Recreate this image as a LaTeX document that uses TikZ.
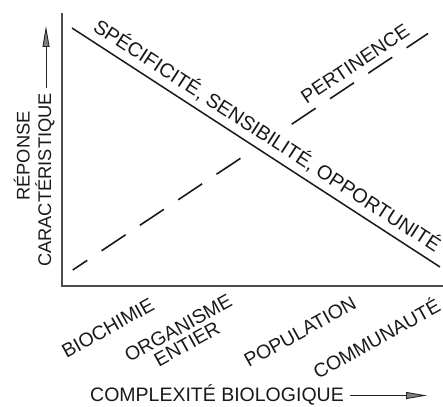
\documentclass[tikz,border=0pt]{standalone}
\usepackage{fontspec}
\setmainfont{Liberation Sans}
\newfontfamily\lblfont{Liberation Sans}
\usetikzlibrary{arrows.meta}
\begin{document}
\begin{tikzpicture}[x=1pt,y=-1pt,
  lbl/.style={font=\lblfont\fontsize{19.5}{18}\selectfont, inner sep=0pt, text=black!90},
  catlbl/.style={lbl, rotate=29, align=center, anchor=center},
  ylbl/.style={font=\fontsize{18.3}{18}\selectfont, inner sep=0pt, rotate=90, anchor=base, text=black!90},
  axisline/.style={line width=1.1pt, draw=black!70},
  curve/.style={line width=1.5pt, draw=black!90},
  dashcurve/.style={line width=1.6pt, draw=black!90, dash pattern=on 28.8pt off 17.2pt},
  arr/.style={line width=0.9pt, draw=black!85, -{Triangle[length=21pt,width=7pt,fill=black!50]}}
]
\useasboundingbox (0,0) rectangle (443,406);

% axes
\coordinate (ytop) at (62,13);
\coordinate (O) at (62,286);
\coordinate (xend) at (443,286);
\draw[axisline] (ytop) -- (O) -- (xend);

% solid line
\coordinate (s1) at (72,28);
\coordinate (s2) at (440,267);
\draw[curve] (s1) -- (s2);
\node[lbl, font=\lblfont\fontsize{19.9}{18}\selectfont, rotate=-33, anchor=base] (slbl) at (263.5,141.5) {SPÉCIFICITÉ, SENSIBILITÉ, OPPORTUNITÉ};

% dashed line
\coordinate (p0) at (72.7,270);
\coordinate (p1) at (240.5,158.3);
\coordinate (p2) at (291.7,124.2);
\coordinate (p3) at (428,33.5);
\draw[dashcurve, dash phase=11.3pt] (p0) -- (p1);
\draw[dashcurve] (p2) -- (p3);
\node[lbl, rotate=33.6, anchor=base] (plbl) at (358.8,69.4) {PERTINENCE};

% y axis label
\node[ylbl] (rep) at (29.5,156) {RÉPONSE};
\node[ylbl] (car) at (51,180) {CARACTÉRISTIQUE};
\coordinate (ya1) at (46,88);
\coordinate (ya2) at (46,26);
\draw[arr] (ya1) -- (ya2);

% categories
\node[catlbl] (bio) at (108,328) {BIOCHIMIE};
\node[catlbl] (org) at (182.5,336) {ORGANISME\\ENTIER};
\node[catlbl] (pop) at (300,332) {POPULATION};
\node[catlbl] (com) at (376,337.5) {COMMUNAUTÉ};

% x axis label
\node[lbl, anchor=base west] (cx) at (90,401) {COMPLEXITÉ BIOLOGIQUE};
\coordinate (xa1) at (350,395.5);
\coordinate (xa2) at (427,395.5);
\draw[arr] (xa1) -- (xa2);
\end{tikzpicture}
\end{document}
